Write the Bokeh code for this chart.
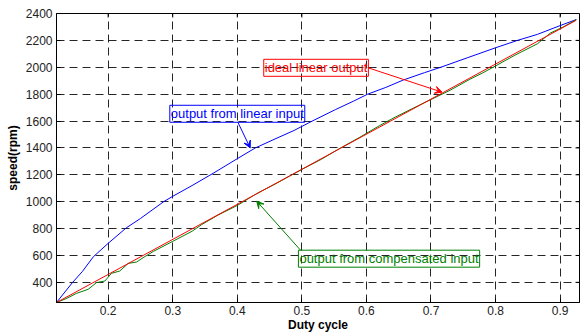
import math
from bokeh.plotting import figure
from bokeh.models import Range1d, FixedTicker, Label, Arrow, VeeHead
from bokeh.embed import file_html
from bokeh.resources import INLINE

# ---- data ----
x_ticks = [0.2, 0.3, 0.4, 0.5, 0.6, 0.7, 0.8, 0.9]
y_ticks = [400, 600, 800, 1000, 1200, 1400, 1600, 1800, 2000, 2200, 2400]
x_min, x_max = 0.12, 0.93
y_min, y_max = 250, 2400

blue_x = [0.120, 0.145, 0.160, 0.177, 0.200, 0.228, 0.250, 0.286, 0.300, 0.330, 0.364,
          0.400, 0.428, 0.460, 0.488, 0.514, 0.552, 0.580, 0.602, 0.630, 0.657,
          0.690, 0.715, 0.756, 0.800, 0.834, 0.865, 0.900, 0.925]
blue_y = [250, 400, 480, 590, 690, 805, 875, 1000, 1040, 1120, 1215,
          1320, 1400, 1470, 1530, 1595, 1685, 1748, 1800, 1850, 1905,
          1960, 2000, 2070, 2145, 2200, 2245, 2310, 2355]

green_x = [0.120, 0.135, 0.151, 0.169, 0.182, 0.195, 0.205, 0.218, 0.231, 0.244,
           0.254, 0.270, 0.300, 0.330, 0.345, 0.370, 0.400, 0.430, 0.460, 0.500,
           0.530, 0.560, 0.590, 0.620, 0.645, 0.670, 0.700, 0.730, 0.760, 0.780,
           0.800, 0.830, 0.865, 0.885, 0.905, 0.925]
green_y = [250, 279, 318, 348, 398, 410, 467, 484, 541, 551,
           583, 630, 705, 780, 830, 900, 972, 1060, 1135, 1240,
           1315, 1400, 1480, 1565, 1630, 1690, 1760, 1830, 1910, 1958,
           2010, 2090, 2175, 2255, 2300, 2355]

red_x = [0.120, 0.925]
red_y = [250, 2350]

# annotations
ann_text = ["ideal linear output", "output from linear input", "output from compensated input"]
ann_cx = [0.522, 0.400, 0.635]
ann_cy = [1996, 1654, 576]
arr_x0 = [0.602, 0.401, 0.498]
arr_y0 = [1997, 1590, 639]
arr_x1 = [0.717, 0.420, 0.430]
arr_y1 = [1815, 1400, 1004]
ann_color = ["#ff0000", "#0000ff", "#008000"]

FONT = "Liberation Sans"

p = figure(width=585, height=334, output_backend="svg", toolbar_location=None,
           x_range=Range1d(x_min, x_max), y_range=Range1d(y_min, y_max),
           min_border_left=56, min_border_right=6, min_border_top=13, min_border_bottom=30)

p.background_fill_color = "white"
p.border_fill_color = "white"
p.outline_line_color = "black"
p.outline_line_width = 1

for ax, ticks in ((p.xaxis[0], x_ticks), (p.yaxis[0], y_ticks)):
    ax.ticker = FixedTicker(ticks=ticks)
    ax.major_tick_in = 4
    ax.major_tick_out = 0
    ax.minor_tick_line_color = None
    ax.axis_line_color = "black"
    ax.major_tick_line_color = "black"
    ax.major_label_text_font = FONT
    ax.major_label_text_font_size = "12px"
    ax.major_label_text_color = "#222222"
    ax.axis_label_text_font = FONT
    ax.axis_label_text_font_size = "12px"
    ax.axis_label_text_font_style = "bold"
    ax.axis_label_text_color = "black"

p.xaxis[0].axis_label = "Duty cycle"
p.yaxis[0].axis_label = "speed(rpm)"
p.xaxis[0].major_label_standoff = 3
p.xaxis[0].axis_label_standoff = 0
p.yaxis[0].major_label_standoff = 4
p.yaxis[0].axis_label_standoff = 3

for g, ticks in ((p.xgrid[0], x_ticks), (p.ygrid[0], y_ticks)):
    g.ticker = FixedTicker(ticks=ticks)
    g.grid_line_color = "black"
    g.grid_line_alpha = 0.85
    g.grid_line_dash = "8 5"
    g.grid_line_width = 1

# mirrored inward ticks on the top and right edges (half of each dash is clipped by the frame)
p.scatter([t for t in x_ticks], [y_max] * len(x_ticks), marker="dash", size=8,
          angle=math.pi / 2, line_color="black", line_width=1)
p.scatter([x_max] * len(y_ticks), [t for t in y_ticks], marker="dash", size=8,
          line_color="black", line_width=1)

p.line(blue_x, blue_y, line_color="#0000ff", line_width=1)
p.line(green_x, green_y, line_color="#008000", line_width=1)
p.line(red_x, red_y, line_color="#ff0000", line_width=1)

for i in range(len(ann_text)):
    c = ann_color[i]
    p.add_layout(Arrow(x_start=arr_x0[i], y_start=arr_y0[i], x_end=arr_x1[i], y_end=arr_y1[i],
                       line_color=c, line_width=1,
                       end=VeeHead(size=7, line_color=c, fill_color=c, line_width=1)))
    p.add_layout(Label(x=ann_cx[i], y=ann_cy[i], text=ann_text[i],
                       text_align="center", text_baseline="middle",
                       text_font=FONT, text_font_size="13px", text_color=c,
                       border_line_color=c, border_line_width=1,
                       background_fill_color=None, padding=1))

open("out.html", "w").write(file_html(p, INLINE))
